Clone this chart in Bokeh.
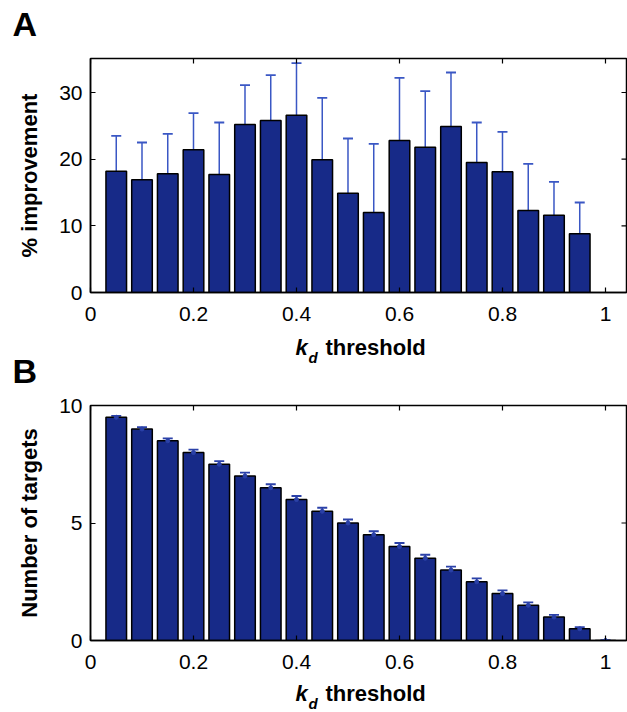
import math
from bokeh.plotting import figure
from bokeh.layouts import column
from bokeh.models import (ColumnDataSource, Whisker, TeeHead, FixedTicker,
                          CustomJSTickFormatter, Range1d)
from bokeh.core.properties import value
from bokeh.embed import file_html
from bokeh.resources import INLINE

# ---------------- data ----------------
kd_a = [0.05, 0.10, 0.15, 0.20, 0.25, 0.30, 0.35, 0.40, 0.45, 0.50,
        0.55, 0.60, 0.65, 0.70, 0.75, 0.80, 0.85, 0.90, 0.95]
improvement = [18.2, 16.9, 17.8, 21.4, 17.7, 25.2, 25.8, 26.6, 19.9, 14.9,
               12.0, 22.8, 21.8, 24.9, 19.5, 18.1, 12.3, 11.6, 8.8]
improvement_err = [5.3, 5.6, 6.0, 5.5, 7.8, 5.9, 6.8, 7.8, 9.3, 8.2,
                   10.3, 9.4, 8.4, 8.1, 6.0, 6.0, 7.0, 5.0, 4.7]

kd_b = [0.05, 0.10, 0.15, 0.20, 0.25, 0.30, 0.35, 0.40, 0.45, 0.50,
        0.55, 0.60, 0.65, 0.70, 0.75, 0.80, 0.85, 0.90, 0.95, 1.00]
targets = [9.5, 9.0, 8.5, 8.0, 7.5, 7.0, 6.5, 6.0, 5.5, 5.0,
           4.5, 4.0, 3.5, 3.0, 2.5, 2.0, 1.5, 1.0, 0.5, 0.0]
targets_err = [0.06, 0.08, 0.10, 0.12, 0.13, 0.14, 0.15, 0.15, 0.15, 0.15,
               0.15, 0.15, 0.15, 0.14, 0.14, 0.13, 0.12, 0.09, 0.07, 0.0]

x_ticks = [0, 0.2, 0.4, 0.6, 0.8, 1.0]
a_y_ticks = [0, 10, 20, 30]
b_y_ticks = [0, 5, 10]

# ---------------- style ----------------
FONT = "Liberation Sans"
BAR = "#172a88"
ERR_A = "#3a57c4"
ERR_B = "#2b41a8"
W = 627
FRAME_LEFT = 90
X_END = 1.0408


def make_panel(height, border_top, border_bottom, y_end, y_ticks, ylabel):
    p = figure(width=W, height=height, output_backend="svg", toolbar_location=None,
               title=None,
               x_range=Range1d(0, X_END), y_range=Range1d(0, y_end),
               min_border_left=FRAME_LEFT, min_border_right=1,
               min_border_top=border_top, min_border_bottom=border_bottom,
               background_fill_color="white", border_fill_color="white")
    p.frame_align = False
    p.grid.visible = False
    p.outline_line_color = "black"
    p.outline_line_width = 1.5

    p.xaxis.ticker = FixedTicker(ticks=x_ticks)
    p.xaxis.formatter = CustomJSTickFormatter(
        code="return String(Math.round(tick*10)/10);")
    p.yaxis.ticker = FixedTicker(ticks=y_ticks)
    for ax in p.xaxis + p.yaxis:
        ax.axis_line_color = "black"
        ax.axis_line_width = 1.5
        ax.major_tick_in = 5
        ax.major_tick_out = 0
        ax.major_tick_line_color = "black"
        ax.major_tick_line_width = 1.2
        ax.minor_tick_line_color = None
        ax.major_label_text_font = FONT
        ax.major_label_text_font_size = "21px"
        ax.major_label_text_color = "black"
    p.xaxis.major_label_standoff = 14
    p.yaxis.major_label_standoff = 8

    p.yaxis.axis_label = ylabel
    p.yaxis.axis_label_text_font = FONT
    p.yaxis.axis_label_text_font_style = "bold"
    p.yaxis.axis_label_text_font_size = "22px"
    p.yaxis.axis_label_text_color = "black"
    p.yaxis.axis_label_standoff = 14

    # inward ticks on the top and right spines (half of a dash clipped by the frame)
    p.scatter(x=x_ticks, y=[y_end] * len(x_ticks), marker="dash", size=10,
              angle=math.pi / 2, line_color="black", line_width=1.2)
    p.scatter(x=[X_END] * len(y_ticks), y=y_ticks, marker="dash", size=10,
              line_color="black", line_width=1.2)
    return p


def strip(height, items):
    """A text-only row: items are (x_px, baseline_px_from_top, text, size_px, style)."""
    s = figure(width=W, height=height, output_backend="svg", toolbar_location=None,
               title=None, x_axis_type=None, y_axis_type=None,
               x_range=Range1d(0, W), y_range=Range1d(0, height),
               min_border=0, min_border_left=0, min_border_right=0,
               min_border_top=0, min_border_bottom=0)
    s.frame_align = False
    s.grid.visible = False
    s.outline_line_color = None
    s.background_fill_color = "white"
    s.border_fill_color = "white"
    for (x, yb, txt, size, style) in items:
        # Bokeh's text box sits a little low for "alphabetic"; compensate
        y_top = yb - 0.37 * size
        s.text(x=[x], y=[height - y_top], text=[txt], text_font=value(FONT),
               text_font_size=f"{size}px", text_font_style=style,
               text_color="black", text_align="left",
               text_baseline="alphabetic")
    return s


def kd_label(base):
    return [(295, base, "k", 22, "bold italic"),
            (308, base + 8, "d", 15, "bold italic"),
            (325, base, "threshold", 22, "bold")]


# ---------------- panel A ----------------
top_strip = strip(50, [(12, 36, "A", 34, "bold")])

pA = make_panel(282, 8, 40, 35.1, a_y_ticks, "% improvement")
src_a = ColumnDataSource(dict(
    x=kd_a, v=improvement,
    up=[v + e for v, e in zip(improvement, improvement_err)]))
pA.vbar(x="x", top="v", width=0.04, source=src_a, fill_color=BAR,
        line_color="black", line_width=1.5)
pA.add_layout(Whisker(base="x", lower="v", upper="up", source=src_a,
                      line_color=ERR_A, line_width=1.5,
                      upper_head=TeeHead(size=10, line_color=ERR_A, line_width=1.8),
                      lower_head=None))

mid_strip = strip(58, kd_label(23) + [(12, 51, "B", 34, "bold")])

# ---------------- panel B ----------------
pB = make_panel(290, 15, 40, 10, b_y_ticks, "Number of targets")
src_b = ColumnDataSource(dict(
    x=kd_b, v=targets,
    lo=[v - e for v, e in zip(targets, targets_err)],
    up=[v + e for v, e in zip(targets, targets_err)]))
pB.vbar(x="x", top="v", width=0.04, source=src_b, fill_color=BAR,
        line_color="black", line_width=1.5)
pB.add_layout(Whisker(base="x", lower="lo", upper="up", source=src_b,
                      line_color=ERR_B, line_width=1.5,
                      upper_head=TeeHead(size=10, line_color=ERR_B, line_width=1.8),
                      lower_head=TeeHead(size=10, line_color=ERR_B, line_width=1.8)))
pB.scatter(x="x", y="v", source=src_b, size=4, color=ERR_B)

bottom_strip = strip(32, kd_label(21))

layout = column(top_strip, pA, mid_strip, pB, bottom_strip, spacing=0)
open("out.html", "w").write(file_html(layout, INLINE))
